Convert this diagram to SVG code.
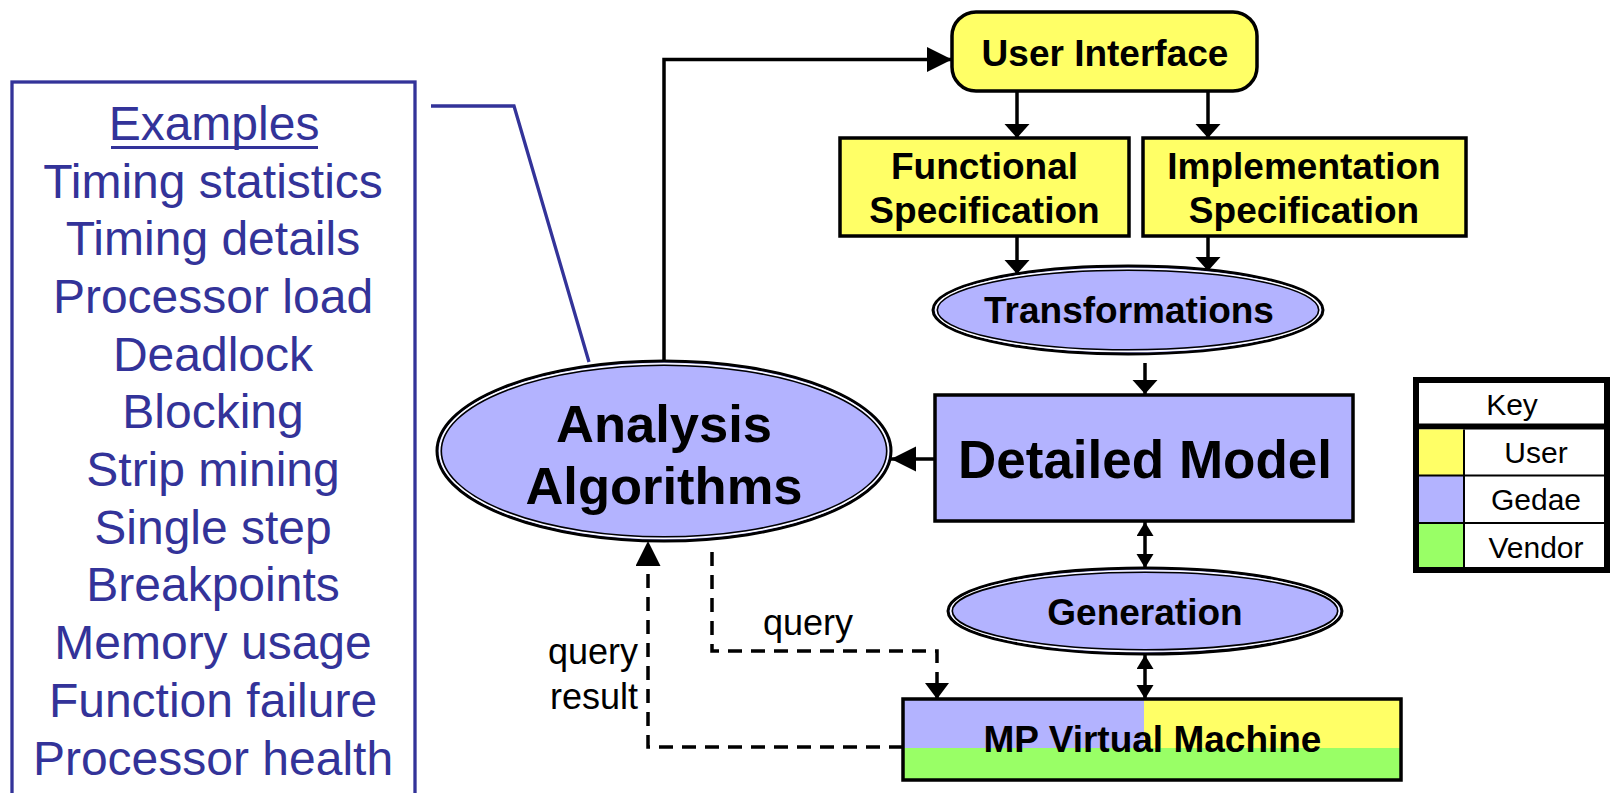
<svg xmlns="http://www.w3.org/2000/svg" width="1614" height="793" viewBox="0 0 1614 793">
  <style>
    .ex { font-family: "Liberation Sans", Arial, sans-serif; font-size: 48px; fill: #333399; text-anchor: middle; }
    .lbl { font-family: "Liberation Sans", Arial, sans-serif; font-weight: bold; font-size: 37px; fill: #000; text-anchor: middle; }
    .big { font-size: 53px; }
    .note { font-family: "Liberation Sans", Arial, sans-serif; font-size: 36px; fill: #000; }
    .key { font-family: "Liberation Sans", Arial, sans-serif; font-size: 30px; fill: #000; text-anchor: middle; }
    .box { stroke: #000; stroke-width: 3.5; }
    .user { fill: #FFFF66; }
    .gedae { fill: #B3B3FF; }
    .vendor { fill: #99FF66; }
    .line { fill: none; stroke: #000; stroke-width: 3.5; }
    .dash { fill: none; stroke: #000; stroke-width: 3.5; stroke-dasharray: 14 9; }
    .ring1 { fill: #B3B3FF; stroke: #000; stroke-width: 3; }
    .ring2 { fill: none; stroke: #fff; stroke-width: 1.6; }
    .ring3 { fill: none; stroke: #000; stroke-width: 1.6; }
  </style>
  <defs>
    <marker id="bigHead" markerUnits="userSpaceOnUse" markerWidth="26" markerHeight="26" refX="25" refY="12.5" orient="auto">
      <path d="M0,0 L25,12.5 L0,25 Z" fill="#000"/>
    </marker>
    <marker id="stubHead" markerUnits="userSpaceOnUse" markerWidth="16" markerHeight="26" refX="14" refY="12.5" orient="auto">
      <path d="M0,0 L14,12.5 L0,25 Z" fill="#000"/>
    </marker>
    <marker id="smallHead" markerUnits="userSpaceOnUse" markerWidth="16" markerHeight="18" refX="14" refY="8.5" orient="auto-start-reverse">
      <path d="M0,0 L14,8.5 L0,17 Z" fill="#000"/>
    </marker>
    <marker id="dashHead" markerUnits="userSpaceOnUse" markerWidth="18" markerHeight="26" refX="16" refY="12" orient="auto">
      <path d="M0,0 L16,12 L0,24 Z" fill="#000"/>
    </marker>
  </defs>

  <!-- list of analysis examples -->
  <g id="examples">
    <rect x="12" y="82" width="403" height="740" fill="#fff" stroke="#333399" stroke-width="3.3"/>
    <text class="ex" x="214" y="140">Examples</text>
    <line x1="111" y1="147.5" x2="318" y2="147.5" stroke="#333399" stroke-width="3"/>
    <text class="ex" x="213" y="197.5">Timing statistics</text>
    <text class="ex" x="213" y="255.2">Timing details</text>
    <text class="ex" x="213" y="312.9">Processor load</text>
    <text class="ex" x="213" y="370.6">Deadlock</text>
    <text class="ex" x="213" y="428.3">Blocking</text>
    <text class="ex" x="213" y="486">Strip mining</text>
    <text class="ex" x="213" y="543.7">Single step</text>
    <text class="ex" x="213" y="601.4">Breakpoints</text>
    <text class="ex" x="213" y="659.1">Memory usage</text>
    <text class="ex" x="213" y="716.8">Function failure</text>
    <text class="ex" x="213" y="774.5">Processor health</text>
  </g>

  <!-- connectors -->
  <g id="connectors">
    <polyline points="431,106 514,106 589,362" fill="none" stroke="#333399" stroke-width="3.3"/>
    <path class="line" d="M664,361 V59.5 H952" marker-end="url(#bigHead)"/>
    <line class="line" x1="1017" y1="91" x2="1017" y2="138" marker-end="url(#stubHead)"/>
    <line class="line" x1="1208" y1="91" x2="1208" y2="138" marker-end="url(#stubHead)"/>
    <line class="line" x1="1017" y1="236" x2="1017" y2="274" marker-end="url(#stubHead)"/>
    <line class="line" x1="1208" y1="236" x2="1208" y2="271" marker-end="url(#stubHead)"/>
    <line class="line" x1="1145" y1="363" x2="1145" y2="394" marker-end="url(#stubHead)"/>
    <line class="line" x1="935" y1="459" x2="891" y2="459" marker-end="url(#bigHead)"/>
    <line class="line" x1="1145" y1="522" x2="1145" y2="568" marker-start="url(#smallHead)" marker-end="url(#smallHead)"/>
    <line class="line" x1="1145" y1="655" x2="1145" y2="699" marker-start="url(#smallHead)" marker-end="url(#smallHead)"/>
    <path class="dash" d="M712,552 V651 H937 V699" marker-end="url(#dashHead)"/>
    <path class="dash" d="M903,747 H648 V541" marker-end="url(#bigHead)"/>
    <text class="note" x="763" y="635">query</text>
    <text class="note" x="638" y="664" text-anchor="end">query</text>
    <text class="note" x="638" y="709" text-anchor="end">result</text>
  </g>

  <g id="user-interface">
    <rect class="box user" x="952" y="12" width="305" height="79" rx="24" ry="24"/>
    <text class="lbl" x="1105" y="66">User Interface</text>
  </g>

  <g id="functional-spec">
    <rect class="box user" x="840" y="138" width="289" height="98"/>
    <text class="lbl" x="984.5" y="179">Functional</text>
    <text class="lbl" x="984.5" y="222.5">Specification</text>
  </g>

  <g id="implementation-spec">
    <rect class="box user" x="1143" y="138" width="323" height="98"/>
    <text class="lbl" x="1304" y="179">Implementation</text>
    <text class="lbl" x="1304" y="222.5">Specification</text>
  </g>

  <g id="transformations">
    <ellipse class="ring1" cx="1128" cy="310" rx="195" ry="44"/>
    <ellipse class="ring2" cx="1128" cy="310" rx="192.3" ry="41.3"/>
    <ellipse class="ring3" cx="1128" cy="310" rx="190.7" ry="39.7"/>
    <text class="lbl" x="1129" y="323">Transformations</text>
  </g>

  <g id="detailed-model">
    <rect class="box gedae" x="935" y="395" width="418" height="126"/>
    <text class="lbl big" x="1145" y="478">Detailed Model</text>
  </g>

  <g id="analysis-algorithms">
    <ellipse class="ring1" cx="664" cy="451" rx="227" ry="90"/>
    <ellipse class="ring2" cx="664" cy="451" rx="224.3" ry="87.3"/>
    <ellipse class="ring3" cx="664" cy="451" rx="222.7" ry="85.7"/>
    <text class="lbl" x="664" y="442" style="font-size:52.5px">Analysis</text>
    <text class="lbl" x="664" y="504" style="font-size:52.5px">Algorithms</text>
  </g>

  <g id="generation">
    <ellipse class="ring1" cx="1145" cy="611" rx="197" ry="43"/>
    <ellipse class="ring2" cx="1145" cy="611" rx="194.3" ry="40.3"/>
    <ellipse class="ring3" cx="1145" cy="611" rx="192.7" ry="38.7"/>
    <text class="lbl" x="1145" y="625">Generation</text>
  </g>

  <g id="mp-virtual-machine">
    <rect class="gedae" x="903" y="699" width="241" height="49"/>
    <rect class="user" x="1144" y="699" width="257" height="49"/>
    <rect class="vendor" x="903" y="748" width="498" height="32"/>
    <rect x="903" y="699" width="498" height="81" fill="none" class="box"/>
    <text class="lbl" x="1152.5" y="752">MP Virtual Machine</text>
  </g>

  <g id="key">
    <rect x="1416" y="380" width="191" height="190" fill="#fff" stroke="#000" stroke-width="6"/>
    <line x1="1416" y1="426.5" x2="1607" y2="426.5" stroke="#000" stroke-width="6"/>
    <rect class="user" x="1419" y="429.5" width="44.5" height="46"/>
    <rect class="gedae" x="1419" y="475.5" width="44.5" height="47.5"/>
    <rect class="vendor" x="1419" y="523" width="44.5" height="44"/>
    <line x1="1464" y1="429.5" x2="1464" y2="567" stroke="#000" stroke-width="2"/>
    <line x1="1419" y1="475.5" x2="1604" y2="475.5" stroke="#000" stroke-width="2"/>
    <line x1="1419" y1="523" x2="1604" y2="523" stroke="#000" stroke-width="2"/>
    <text class="key" x="1512" y="415">Key</text>
    <text class="key" x="1536" y="463">User</text>
    <text class="key" x="1536" y="510">Gedae</text>
    <text class="key" x="1536" y="558">Vendor</text>
  </g>
</svg>
